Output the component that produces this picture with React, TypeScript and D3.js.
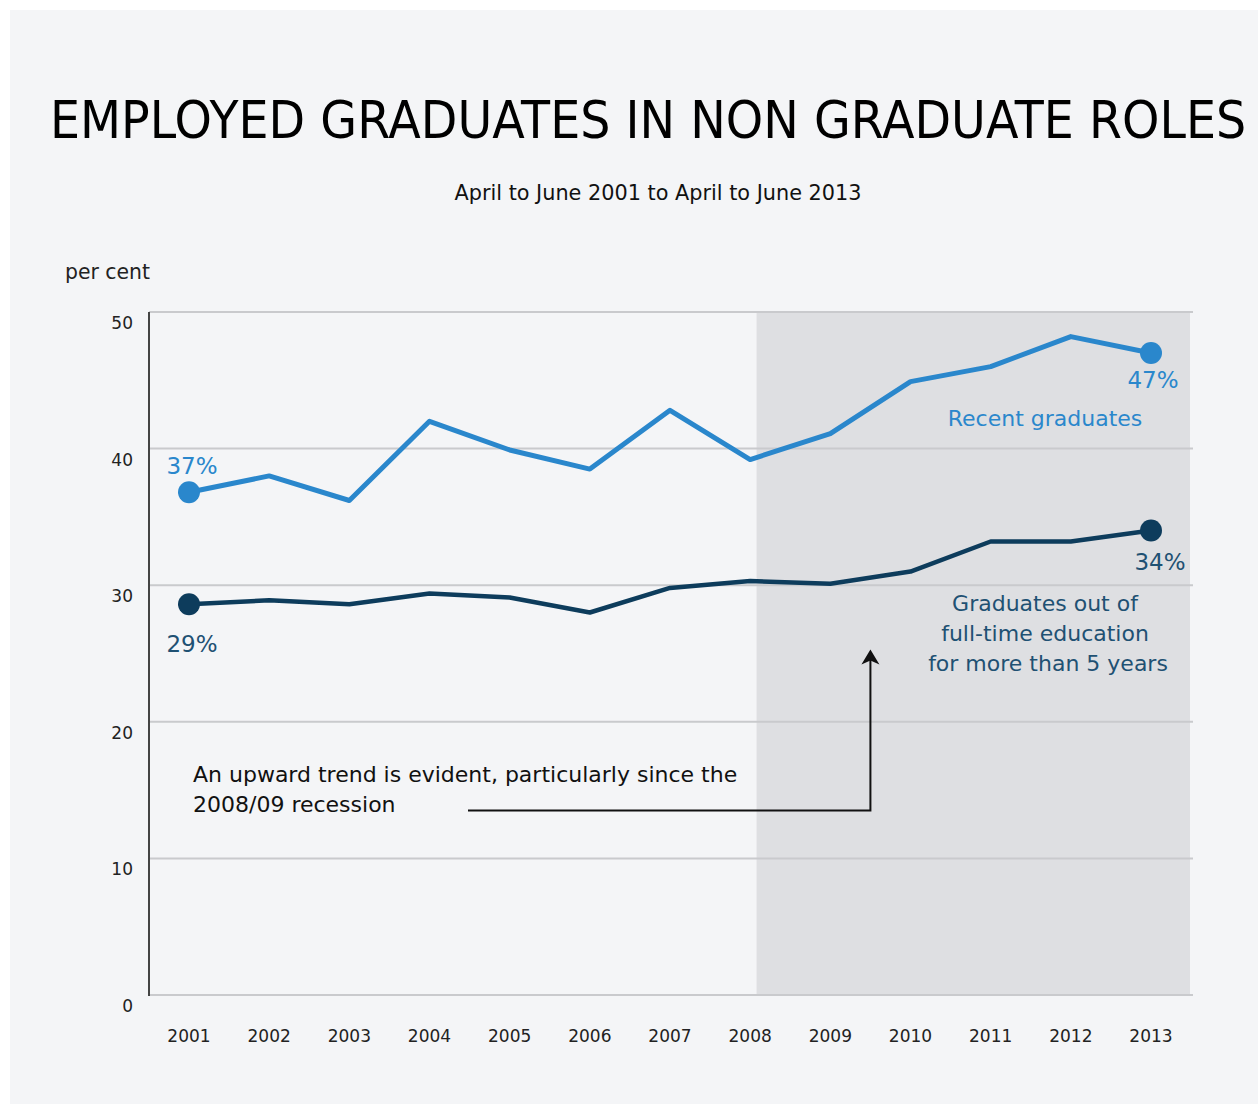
import React, { useLayoutEffect, useRef, useState } from "react";
import * as d3 from "d3";

const years = [2001, 2002, 2003, 2004, 2005, 2006, 2007, 2008, 2009, 2010, 2011, 2012, 2013];
const recentGrads = [36.8, 38.0, 36.2, 42.0, 39.9, 38.5, 42.8, 39.2, 41.1, 44.9, 46.0, 48.2, 47.0];
const olderGrads = [28.6, 28.9, 28.6, 29.4, 29.1, 28.0, 29.8, 30.3, 30.1, 31.0, 33.2, 33.2, 34.0];
const yTicks = [0, 10, 20, 30, 40, 50];

const W = 1258;
const H = 1104;
const font = "DejaVu Sans, Verdana, sans-serif";
const blue = "#2a87cc";
const navy = "#0d3c5c";
const navyText = "#1f5173";
const titleWidth = 1196;

const App = () => {
  const titleRef = useRef<SVGTextElement>(null);
  const [titleScale, setTitleScale] = useState(0.9);

  // squeeze the title horizontally so it fits the same span as the original
  useLayoutEffect(() => {
    if (titleRef.current) {
      const len = titleRef.current.getComputedTextLength();
      if (len > 0) setTitleScale(titleWidth / len);
    }
  }, []);

  const x = d3.scaleLinear().domain([2001, 2013]).range([189, 1151]);
  const y = d3.scaleLinear().domain([0, 50]).range([995, 312]);
  const plotLeft = 149;
  const plotRight = 1193;

  const line = d3
    .line<number>()
    .x((_, i) => x(years[i]))
    .y(d => y(d));

  const last = years.length - 1;
  // shaded recession period starts just after 2008
  const shadeX = x(2008.08);
  const arrowX = x(2009.5);

  return (
    <div style={{ position: "absolute", left: 0, top: 0 }}>
      <svg width={W} height={H} style={{ display: "block" }} fontFamily={font}>
        <rect x={0} y={0} width={W} height={H} fill="#ffffff" />
        <rect x={10} y={10} width={W - 10} height={H - 10} fill="#f4f5f7" />

        <g transform={`translate(50,138) scale(${titleScale},1)`}>
          <text ref={titleRef} x={0} y={0} fontSize={52} fill="#000">
            EMPLOYED GRADUATES IN NON GRADUATE ROLES
          </text>
        </g>
        <text x={658} y={200} fontSize={20.8} fill="#111" textAnchor="middle">
          April to June 2001 to April to June 2013
        </text>
        <text x={65} y={279} fontSize={20.4} fill="#222">
          per cent
        </text>

        <rect x={shadeX} y={y(50)} width={1190 - shadeX} height={y(0) - y(50)} fill="#dedfe2" />

        {yTicks.map(t => (
          <g key={t}>
            <line x1={plotLeft} x2={plotRight} y1={y(t)} y2={y(t)} stroke="#c9cacd" strokeWidth={2} />
            <text x={133} y={y(t) + 17} fontSize={17} fill="#222" textAnchor="end">
              {t}
            </text>
          </g>
        ))}
        <line x1={plotLeft} x2={plotLeft} y1={y(50)} y2={y(0) + 1} stroke="#444" strokeWidth={2} />

        {years.map(yr => (
          <text key={yr} x={x(yr)} y={1042} fontSize={17} fill="#222" textAnchor="middle">
            {yr}
          </text>
        ))}

        <path d={line(olderGrads) || ""} fill="none" stroke={navy} strokeWidth={4.5} strokeLinejoin="round" />
        <path d={line(recentGrads) || ""} fill="none" stroke={blue} strokeWidth={5} strokeLinejoin="round" />

        <circle cx={x(years[0])} cy={y(recentGrads[0])} r={11} fill={blue} />
        <circle cx={x(years[last])} cy={y(recentGrads[last])} r={11} fill={blue} />
        <circle cx={x(years[0])} cy={y(olderGrads[0])} r={11} fill={navy} />
        <circle cx={x(years[last])} cy={y(olderGrads[last])} r={11} fill={navy} />

        <text x={x(years[0]) + 3} y={y(recentGrads[0]) - 18} fontSize={23} fill={blue} textAnchor="middle">
          {Math.round(recentGrads[0])}%
        </text>
        <text x={x(years[last]) + 2} y={y(recentGrads[last]) + 35} fontSize={23} fill={blue} textAnchor="middle">
          {Math.round(recentGrads[last])}%
        </text>
        <text x={x(years[0]) + 3} y={y(olderGrads[0]) + 48} fontSize={23} fill={navyText} textAnchor="middle">
          {Math.round(olderGrads[0])}%
        </text>
        <text x={x(years[last]) + 9} y={y(olderGrads[last]) + 39} fontSize={23} fill={navyText} textAnchor="middle">
          {Math.round(olderGrads[last])}%
        </text>

        <text x={1045} y={426} fontSize={22} fill={blue} textAnchor="middle">
          Recent graduates
        </text>
        <text fontSize={22} fill={navyText} textAnchor="middle">
          <tspan x={1045} y={611}>Graduates out of</tspan>
          <tspan x={1045} y={641}>full-time education</tspan>
          <tspan x={1048} y={671}>for more than 5 years</tspan>
        </text>

        <text fontSize={22} fill="#111">
          <tspan x={193} y={782}>An upward trend is evident, particularly since the</tspan>
          <tspan x={193} y={812}>2008/09 recession</tspan>
        </text>
        <path
          d={`M468,${y(13.5)} H${arrowX} V${y(24.8)}`}
          fill="none"
          stroke="#111"
          strokeWidth={2}
        />
        <path
          d={`M${arrowX},${y(25.0) - 4} l-9,15 l9,-4 l9,4 Z`}
          fill="#111"
        />
      </svg>
    </div>
  );
};

export default App;
